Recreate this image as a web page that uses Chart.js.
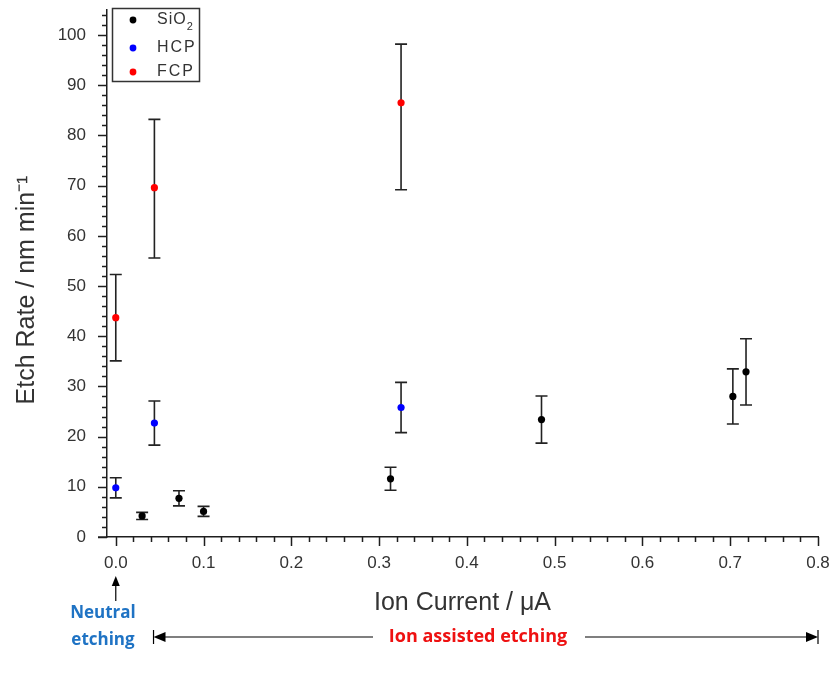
<!DOCTYPE html>
<html>
<head>
<meta charset="utf-8">
<title>Etch rate vs ion current</title>
<script src="https://cdn.jsdelivr.net/npm/chart.js@4.4.1/dist/chart.umd.min.js"></script>
<style>
  body { margin: 0; background: #fff; }
  #wrap { width: 833px; height: 689px; }
</style>
</head>
<body>
<div id="wrap"><canvas id="etchChart" width="833" height="689"></canvas></div>
<script>
// Data (x = ion current in uA, y = etch rate in nm/min,
// errUp / errDown = length of the error bar above / below the point)
const sio2X = [0.030, 0.072, 0.100, 0.313, 0.485, 0.703, 0.718];
const sio2Y = [4.2, 7.7, 5.1, 11.6, 23.4, 28.0, 32.9];
const sio2ErrUp = [0.7, 1.5, 1.0, 2.3, 4.7, 5.5, 6.6];
const sio2ErrDown = [0.7, 1.5, 1.0, 2.3, 4.7, 5.5, 6.6];

const hcpX = [0.000, 0.044, 0.325];
const hcpY = [9.8, 22.7, 25.8];
const hcpErrUp = [2.0, 4.4, 5.0];
const hcpErrDown = [2.0, 4.4, 5.0];

const fcpX = [0.000, 0.044, 0.325];
const fcpY = [43.7, 69.6, 86.5];
const fcpErrUp = [8.6, 13.6, 11.7];
const fcpErrDown = [8.6, 14.0, 17.3];

const xTickValues = [0, 0.1, 0.2, 0.3, 0.4, 0.5, 0.6, 0.7, 0.8];
const yTickValues = [0, 10, 20, 30, 40, 50, 60, 70, 80, 90, 100];

const seriesNames = ['SiO2', 'HCP', 'FCP'];
const seriesColors = ['#000000', '#0000ff', '#ff0000'];

function toPoints(xs, ys) {
    return xs.map((x, i) => ({ x: x, y: ys[i] }));
}

const axisColor = '#1e1e1e';
const textColor = '#333333';
const fontFamily = '"Liberation Sans", Arial, sans-serif';

// error bars drawn under the markers
const errorBars = {
    id: 'errorBars',
    beforeDatasetsDraw(chart) {
        const { ctx, scales: { x, y } } = chart;
        ctx.save();
        ctx.strokeStyle = '#222';
        ctx.lineWidth = 1.6;
        chart.data.datasets.forEach(ds => {
            ds.data.forEach((p, i) => {
                const px = x.getPixelForValue(p.x);
                const top = y.getPixelForValue(p.y + ds.errUp[i]);
                const bot = y.getPixelForValue(p.y - ds.errDown[i]);
                ctx.beginPath();
                ctx.moveTo(px, top);
                ctx.lineTo(px, bot);
                ctx.moveTo(px - 6, top);
                ctx.lineTo(px + 6, top);
                ctx.moveTo(px - 6, bot);
                ctx.lineTo(px + 6, bot);
                ctx.stroke();
            });
        });
        ctx.restore();
    }
};

// major and minor tick marks pointing out of the plot, plus the y title
const axisTicks = {
    id: 'axisTicks',
    afterDraw(chart) {
        const { ctx, chartArea, scales: { x, y } } = chart;
        ctx.save();
        ctx.strokeStyle = axisColor;
        ctx.lineWidth = 1.5;
        ctx.beginPath();
        for (let v = 0; v <= 104; v += 2) {
            const py = Math.round(y.getPixelForValue(v)) + 0.5;
            const len = v % 10 === 0 ? 9 : 5;
            ctx.moveTo(chartArea.left, py);
            ctx.lineTo(chartArea.left - len, py);
        }
        for (let i = 0; i <= 40; i++) {
            const px = Math.round(x.getPixelForValue(i * 0.02)) + 0.5;
            const len = i % 5 === 0 ? 9 : 5;
            ctx.moveTo(px, chartArea.bottom);
            ctx.lineTo(px, chartArea.bottom + len);
        }
        // axis line runs a little past the y axis
        ctx.moveTo(chartArea.left - 9, chartArea.bottom);
        ctx.lineTo(chartArea.left, chartArea.bottom);
        ctx.stroke();

        // y axis title sits a bit below the middle of the axis in the original
        ctx.translate(27, 290);
        ctx.rotate(-Math.PI / 2);
        ctx.font = '25px ' + fontFamily;
        ctx.fillStyle = textColor;
        ctx.textAlign = 'center';
        ctx.textBaseline = 'middle';
        ctx.fillText('Etch Rate / nm min\u207b\u00b9', 0, 0);
        ctx.restore();
    }
};

// boxed legend in the upper left corner of the plot
const boxLegend = {
    id: 'boxLegend',
    afterDraw(chart) {
        const { ctx, chartArea } = chart;
        const bx = chartArea.left + 5, by = chartArea.top - 2, bw = 87, bh = 73;
        ctx.save();
        ctx.fillStyle = '#fff';
        ctx.fillRect(bx, by, bw, bh);
        ctx.strokeStyle = '#333';
        ctx.lineWidth = 1.5;
        ctx.strokeRect(bx + 0.5, by + 0.5, bw, bh);
        const rows = [by + 12, by + 40, by + 64];
        ctx.font = '16px ' + fontFamily;
        ctx.textBaseline = 'middle';
        rows.forEach((ry, i) => {
            ctx.fillStyle = seriesColors[i];
            ctx.beginPath();
            ctx.arc(bx + 21, ry, 3.4, 0, Math.PI * 2);
            ctx.fill();
            ctx.fillStyle = textColor;
            if (i === 0) {
                ctx.letterSpacing = '1px';
                ctx.fillText('SiO', bx + 45, ry);
                const w = ctx.measureText('SiO').width;
                ctx.font = '11px ' + fontFamily;
                ctx.fillText('2', bx + 45 + w, ry + 7);
                ctx.font = '16px ' + fontFamily;
            } else {
                ctx.letterSpacing = '2px';
                ctx.fillText(seriesNames[i], bx + 45, ry);
            }
        });
        ctx.restore();
    }
};

// arrows and labels under the x axis
function arrowHead(ctx, tipX, tipY, dir) {
    ctx.beginPath();
    if (dir === 'up') {
        ctx.moveTo(tipX, tipY);
        ctx.lineTo(tipX - 4, tipY + 10);
        ctx.lineTo(tipX + 4, tipY + 10);
    } else {
        const s = dir === 'left' ? 1 : -1;
        ctx.moveTo(tipX, tipY);
        ctx.lineTo(tipX + s * 12, tipY - 5);
        ctx.lineTo(tipX + s * 12, tipY + 5);
    }
    ctx.closePath();
    ctx.fill();
}

const etchNotes = {
    id: 'etchNotes',
    afterDraw(chart) {
        const { ctx, scales: { x } } = chart;
        ctx.save();
        ctx.strokeStyle = '#000';
        ctx.fillStyle = '#000';
        ctx.lineWidth = 1.2;

        const x0 = x.getPixelForValue(0);
        ctx.beginPath();
        ctx.moveTo(x0, 601);
        ctx.lineTo(x0, 582);
        ctx.stroke();
        arrowHead(ctx, x0, 576, 'up');

        const xl = x.getPixelForValue(0.043);
        const xr = x.getPixelForValue(0.8);
        const ay = 637;
        ctx.beginPath();
        ctx.moveTo(xl + 8, ay); ctx.lineTo(373, ay);
        ctx.moveTo(585, ay); ctx.lineTo(xr - 8, ay);
        ctx.moveTo(xl, ay - 7); ctx.lineTo(xl, ay + 7);
        ctx.moveTo(xr, ay - 7); ctx.lineTo(xr, ay + 7);
        ctx.stroke();
        arrowHead(ctx, xl, ay, 'left');
        arrowHead(ctx, xr, ay, 'right');

        ctx.font = 'bold 17px "Open Sans", "DejaVu Sans", sans-serif';
        ctx.textAlign = 'center';
        ctx.textBaseline = 'middle';
        ctx.fillStyle = '#1f73c4';
        ctx.fillText('Neutral', 103, 613);
        ctx.fillText('etching', 103, 640);
        ctx.fillStyle = '#ee1111';
        ctx.font = 'bold 18px "Open Sans", "DejaVu Sans", sans-serif';
        ctx.fillText('Ion assisted etching', 478, 637);
        ctx.restore();
    }
};

function noEdgePadding(scale) {
    scale.paddingLeft = 0;
    scale.paddingRight = 0;
    scale.paddingTop = 0;
    scale.paddingBottom = 0;
}

const ctx = document.getElementById('etchChart').getContext('2d');
const etchChart = new Chart(ctx, {
    type: 'scatter',
    data: {
        datasets: [
            { label: 'SiO2', data: toPoints(sio2X, sio2Y), errUp: sio2ErrUp, errDown: sio2ErrDown, backgroundColor: seriesColors[0], borderColor: seriesColors[0] },
            { label: 'HCP', data: toPoints(hcpX, hcpY), errUp: hcpErrUp, errDown: hcpErrDown, backgroundColor: seriesColors[1], borderColor: seriesColors[1] },
            { label: 'FCP', data: toPoints(fcpX, fcpY), errUp: fcpErrUp, errDown: fcpErrDown, backgroundColor: seriesColors[2], borderColor: seriesColors[2] }
        ]
    },
    options: {
        responsive: false,
        animation: false,
        layout: { padding: { left: 0, top: 10, right: 15, bottom: 0 } },
        elements: { point: { radius: 3.6, borderWidth: 0, hoverRadius: 3.6 } },
        plugins: {
            legend: { display: false },
            tooltip: { enabled: false }
        },
        scales: {
            x: {
                type: 'linear',
                min: -0.01,
                max: 0.8,
                afterFit(scale) { scale.height = 152; noEdgePadding(scale); },
                afterBuildTicks(scale) { scale.ticks = xTickValues.map(v => ({ value: v })); },
                grid: { display: false, drawTicks: false },
                border: { display: true, color: axisColor, width: 1.5 },
                ticks: {
                    padding: 16,
                    color: textColor,
                    font: { family: fontFamily, size: 17 },
                    maxRotation: 0,
                    callback: v => v.toFixed(1)
                },
                title: {
                    display: true,
                    text: 'Ion Current / \u03bcA',
                    color: textColor,
                    font: { family: fontFamily, size: 25 },
                    padding: { top: 0, bottom: 71 }
                }
            },
            y: {
                type: 'linear',
                min: 0,
                max: 105,
                afterFit(scale) { scale.width = 107; noEdgePadding(scale); },
                afterBuildTicks(scale) { scale.ticks = yTickValues.map(v => ({ value: v })); },
                grid: { display: false, drawTicks: false },
                border: { display: true, color: axisColor, width: 1.5 },
                ticks: {
                    padding: 21,
                    color: textColor,
                    font: { family: fontFamily, size: 17 },
                    callback: v => String(v)
                },
                title: { display: false }
            }
        }
    },
    plugins: [errorBars, axisTicks, boxLegend, etchNotes]
});
</script>
</body>
</html>
